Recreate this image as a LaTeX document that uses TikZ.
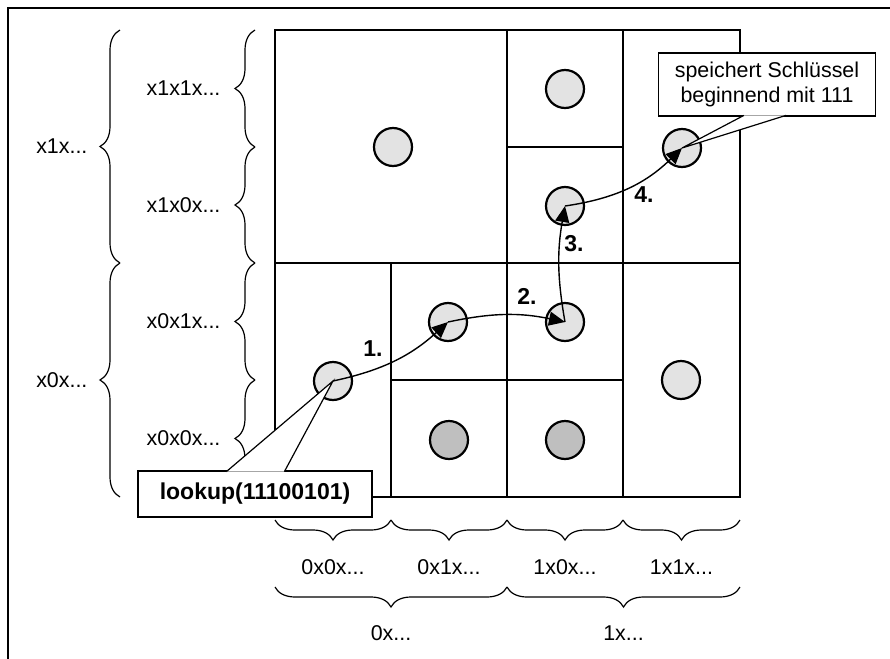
\documentclass[tikz,border=0pt]{standalone}
\usepackage{fontspec}
\setmainfont{Liberation Sans}
\usepackage{tikz}
\usetikzlibrary{positioning, decorations.pathreplacing, arrows.meta}

\begin{document}
\begin{tikzpicture}[x=0.5pt, y=-0.5pt,
  every node/.style={font=\fontsize{10.7}{12.3}\selectfont},
  dot/.style={draw, circle, line width=1.1pt, inner sep=0pt, minimum size=19pt, fill=gray!22},
  darkdot/.style={dot, fill=gray!50},
  hop/.style={line width=0.7pt, -{Triangle[length=8pt, width=7pt]}},
  num/.style={font=\fontsize{11.5}{13}\selectfont\bfseries},
  tag/.style={draw, fill=white, line width=0.6pt, inner sep=0pt, align=center},
  brc/.style={decorate, decoration={brace, amplitude=10pt}, line width=0.6pt},
  lbl/.style={inner sep=0pt}]
\useasboundingbox (0,0) rectangle (890,659);

% frame
\draw[line width=1pt] (8,659) -- (8,8) -- (890,8);

% cells
\draw[line width=0.8pt] (275,30) rectangle (740,497);
\draw[line width=0.8pt] (275,263) -- (740,263) (507,30) -- (507,497) (623,30) -- (623,497)
  (391,263) -- (391,497) (507,147) -- (623,147) (391,380) -- (623,380);

% left braces
\draw[brc] (120,497) -- (120,263) node[midway, lbl, left=16pt] (h0) {x0x...};
\draw[brc] (120,263) -- (120,30) node[midway, lbl, left=16pt] (h1) {x1x...};
\draw[brc] (255,497) -- (255,380) node[midway, lbl, left=17pt] (h00) {x0x0x...};
\draw[brc] (255,380) -- (255,263) node[midway, lbl, left=17pt] (h01) {x0x1x...};
\draw[brc] (255,263) -- (255,147) node[midway, lbl, left=17pt] (h10) {x1x0x...};
\draw[brc] (255,147) -- (255,30) node[midway, lbl, left=17pt] (h11) {x1x1x...};

% bottom braces
\draw[brc] (391,520) -- (275,520) node[midway, lbl, below=19.5pt] (v00) {0x0x...};
\draw[brc] (507,520) -- (391,520) node[midway, lbl, below=19.5pt] (v01) {0x1x...};
\draw[brc] (623,520) -- (507,520) node[midway, lbl, below=19.5pt] (v10) {1x0x...};
\draw[brc] (740,520) -- (623,520) node[midway, lbl, below=19.5pt] (v11) {1x1x...};
\draw[brc] (507,587) -- (275,587) node[midway, lbl, below=19pt] (v0) {0x...};
\draw[brc] (740,587) -- (507,587) node[midway, lbl, below=19pt] (v1) {1x...};

% peers
\node[dot] (c1) at (393,147) {};
\node[dot] (c2) at (565,89) {};
\node[dot] (c3) at (565,206) {};
\node[dot] (c4) at (682,148) {};
\node[dot] (c5) at (333,381) {};
\node[dot] (c6) at (448,322) {};
\node[dot] (c7) at (565,322) {};
\node[darkdot] (c8) at (449,440) {};
\node[darkdot] (c9) at (565,440) {};
\node[dot] (c10) at (681,380) {};

% routing
\draw[hop] (c5.center) to[bend right=15] (c6.center);
\draw[hop] (c6.center) to[bend left=12] (c7.center);
\draw[hop] (c7.center) to[bend left=10] (c3.center);
\draw[hop] (c3.center) to[bend right=18] (c4.center);
\node[num] (n1) at (373,349) {1.};
\node[num] (n2) at (527,296) {2.};
\node[num] (n3) at (574,244) {3.};
\node[num] (n4) at (644,195) {4.};

% callouts
\node[tag, num, minimum width=117pt, minimum height=23pt] (lk) at (255,494) {lookup(11100101)};
\node[tag, minimum width=108.5pt, minimum height=31.5pt] (sp) at (767,84.5) {speichert Schlüssel\\beginnend mit 111};
\filldraw[fill=white, line width=0.6pt] ([xshift=44.5pt, yshift=-0.6pt]lk.north west) -- (c5.center)
  -- ([xshift=73.5pt, yshift=-0.6pt]lk.north west);
\filldraw[fill=white, line width=0.6pt] ([xshift=43pt, yshift=0.6pt]sp.south west) -- (c4.center)
  -- ([xshift=64pt, yshift=0.6pt]sp.south west);
\end{tikzpicture}
\end{document}
